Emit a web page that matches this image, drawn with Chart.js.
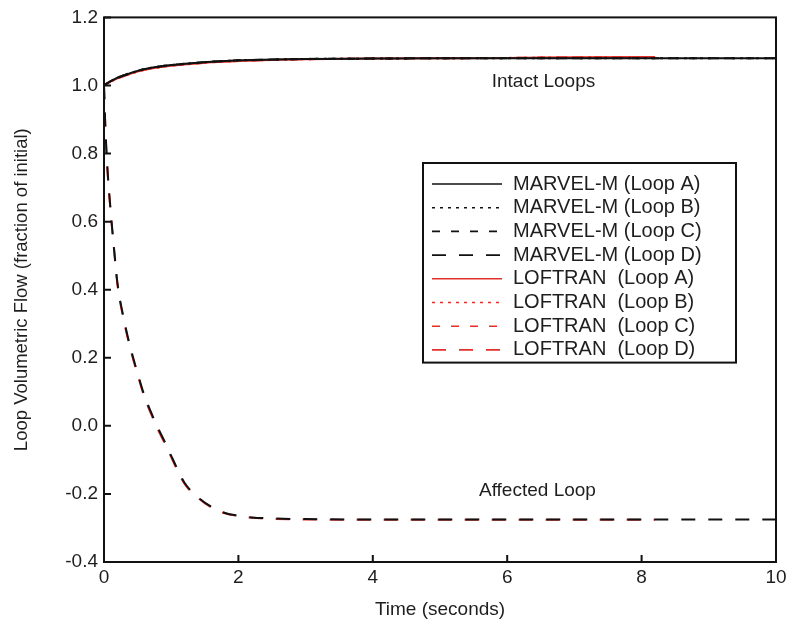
<!DOCTYPE html>
<html>
<head>
<meta charset="utf-8">
<script src="https://cdn.jsdelivr.net/npm/chart.js@4.4.0/dist/chart.umd.min.js"></script>
<style>
    html, body { margin: 0; padding: 0; background: #ffffff; }
    #wrap { width: 792px; height: 628px; }
</style>
</head>
<body>
<div id="wrap"><canvas id="flowChart" width="792" height="628"></canvas></div>
<script>
// time points (s)
const timeSec = [0, 0.02, 0.05, 0.1, 0.15, 0.2, 0.3, 0.4, 0.5, 0.6, 0.7, 0.8, 0.9, 1.0, 1.1, 1.2,
    1.4, 1.6, 1.8, 2.0, 2.2, 2.5, 3, 4, 5, 6, 7, 8, 8.2, 9, 10];

// loops A, B, C (intact)
const marvelIntact = [1.0, 1.003, 1.007, 1.013, 1.018, 1.023, 1.030, 1.037, 1.043, 1.048, 1.052, 1.055, 1.058, 1.060, 1.062, 1.064,
    1.067, 1.070, 1.072, 1.074, 1.075, 1.076, 1.078, 1.079, 1.080, 1.080, 1.080, 1.080, 1.080, 1.080, 1.080];
const loftranIntact = [1.0, 1.002, 1.006, 1.012, 1.016, 1.021, 1.028, 1.035, 1.041, 1.046, 1.050, 1.053, 1.056, 1.058, 1.060, 1.062,
    1.065, 1.068, 1.070, 1.072, 1.073, 1.075, 1.077, 1.079, 1.080, 1.081, 1.083, 1.084, 1.084, null, null];

// loop D (affected)
const marvelAffected = [1.0, 0.88, 0.76, 0.63, 0.52, 0.42, 0.31, 0.225, 0.155, 0.09, 0.04, -0.005, -0.045, -0.088, -0.13, -0.168,
    -0.21, -0.238, -0.256, -0.264, -0.269, -0.272, -0.274, -0.275, -0.275, -0.275, -0.275, -0.275, -0.275, -0.275, -0.275];
const loftranAffected = [1.0, 0.875, 0.755, 0.625, 0.515, 0.415, 0.305, 0.22, 0.15, 0.085, 0.035, -0.01, -0.05, -0.092, -0.134, -0.171,
    -0.212, -0.24, -0.257, -0.265, -0.27, -0.273, -0.275, -0.276, -0.276, -0.276, -0.276, -0.276, -0.276, null, null];

const loopNames = ['Loop A', 'Loop B', 'Loop C', 'Loop D'];
const codeNames = ['MARVEL-M', 'LOFTRAN '];
const xTickValues = [0, 2, 4, 6, 8, 10];
const yTickValues = [-0.4, -0.2, 0.0, 0.2, 0.4, 0.6, 0.8, 1.0, 1.2];

const FONT = 'Liberation Sans, Arial, Helvetica, sans-serif';
const TEXT = '#1e1e1e';
const RED = '#e2312c';
const dashes = [[], [3, 5], [8, 11], [14, 13]];

function pts(values) {
    const out = [];
    values.forEach((v, i) => { if (v !== null) out.push({ x: timeSec[i], y: v }); });
    return out;
}

const datasets = [];
codeNames.forEach((code, c) => {
    loopNames.forEach((loop, l) => {
        let vals;
        if (c === 0) vals = l === 3 ? marvelAffected : marvelIntact;
        else vals = l === 3 ? loftranAffected : loftranIntact;
        datasets.push({
            label: code + ' (' + loop + ')',
            data: pts(vals),
            borderColor: c === 0 ? '#111111' : RED,
            borderWidth: 2,
            borderDash: dashes[l],
            pointRadius: 0,
            fill: false,
            cubicInterpolationMode: 'monotone'
        });
    });
});

// frame + inward ticks
const framePlugin = {
    id: 'frame',
    afterDraw(chart) {
        const { ctx, chartArea: a, scales } = chart;
        ctx.save();
        ctx.strokeStyle = '#111111';
        ctx.lineWidth = 2;
        ctx.strokeRect(a.left, a.top, a.right - a.left, a.bottom - a.top);
        ctx.beginPath();
        yTickValues.forEach(v => {
            const y = scales.y.getPixelForValue(v);
            ctx.moveTo(a.left, y); ctx.lineTo(a.left + 7, y);
        });
        xTickValues.forEach(v => {
            const x = scales.x.getPixelForValue(v);
            ctx.moveTo(x, a.bottom); ctx.lineTo(x, a.bottom - 7);
        });
        ctx.stroke();
        ctx.restore();
    }
};

// curve labels
const notesPlugin = {
    id: 'notes',
    afterDatasetsDraw(chart) {
        const { ctx, scales } = chart;
        ctx.save();
        ctx.fillStyle = TEXT;
        ctx.font = '19px ' + FONT;
        ctx.textAlign = 'center';
        ctx.textBaseline = 'middle';
        ctx.fillText('Intact Loops', scales.x.getPixelForValue(6.54), scales.y.getPixelForValue(1.012));
        ctx.fillText('Affected Loop', scales.x.getPixelForValue(6.45), scales.y.getPixelForValue(-0.19));
        ctx.restore();
    }
};

// boxed legend inside the plot
const boxLegend = {
    id: 'boxLegend',
    afterDraw(chart) {
        const { ctx } = chart;
        const left = 423, top = 163, width = 313, rowH = 23.7;
        const height = rowH * chart.data.datasets.length + 10;
        ctx.save();
        ctx.fillStyle = '#ffffff';
        ctx.fillRect(left, top, width, height);
        ctx.strokeStyle = '#111111';
        ctx.lineWidth = 2;
        ctx.strokeRect(left, top, width, height);
        ctx.font = '20px ' + FONT;
        ctx.textBaseline = 'middle';
        chart.data.datasets.forEach((ds, i) => {
            const y = top + 21 + i * rowH;
            ctx.beginPath();
            ctx.setLineDash(ds.borderDash);
            ctx.strokeStyle = ds.borderColor;
            ctx.lineWidth = 1.6;
            ctx.moveTo(432, y); ctx.lineTo(502, y);
            ctx.stroke();
            ctx.setLineDash([]);
            ctx.fillStyle = TEXT;
            ctx.fillText(ds.label, 513, y);
        });
        ctx.restore();
    }
};

new Chart(document.getElementById('flowChart').getContext('2d'), {
    type: 'line',
    data: { datasets: datasets },
    options: {
        responsive: false,
        animation: false,
        layout: { padding: { top: 16, right: 16, left: 0, bottom: 0 } },
        plugins: {
            legend: { display: false },
            tooltip: { enabled: false }
        },
        scales: {
            x: {
                type: 'linear',
                min: 0,
                max: 10,
                afterFit: s => { s.height = 66; },
                afterBuildTicks: s => { s.ticks = xTickValues.map(v => ({ value: v })); },
                grid: { display: false, drawTicks: false },
                border: { display: false },
                ticks: {
                    color: TEXT,
                    font: { family: FONT, size: 19 },
                    padding: 4,
                    maxRotation: 0,
                    callback: v => String(v)
                },
                title: {
                    display: true,
                    text: 'Time (seconds)',
                    color: TEXT,
                    font: { family: FONT, size: 19 },
                    padding: { top: 0, bottom: 7 }
                }
            },
            y: {
                type: 'linear',
                min: -0.4,
                max: 1.2,
                afterFit: s => { s.width = 104; },
                afterBuildTicks: s => { s.ticks = yTickValues.map(v => ({ value: v })); },
                grid: { display: false, drawTicks: false },
                border: { display: false },
                ticks: {
                    color: TEXT,
                    font: { family: FONT, size: 19 },
                    padding: 6,
                    callback: v => v.toFixed(1)
                },
                title: {
                    display: true,
                    text: 'Loop Volumetric Flow (fraction of initial)',
                    color: TEXT,
                    font: { family: FONT, size: 18.5 },
                    padding: { top: 11, bottom: 0 }
                }
            }
        }
    },
    plugins: [framePlugin, notesPlugin, boxLegend]
});
</script>
</body>
</html>
